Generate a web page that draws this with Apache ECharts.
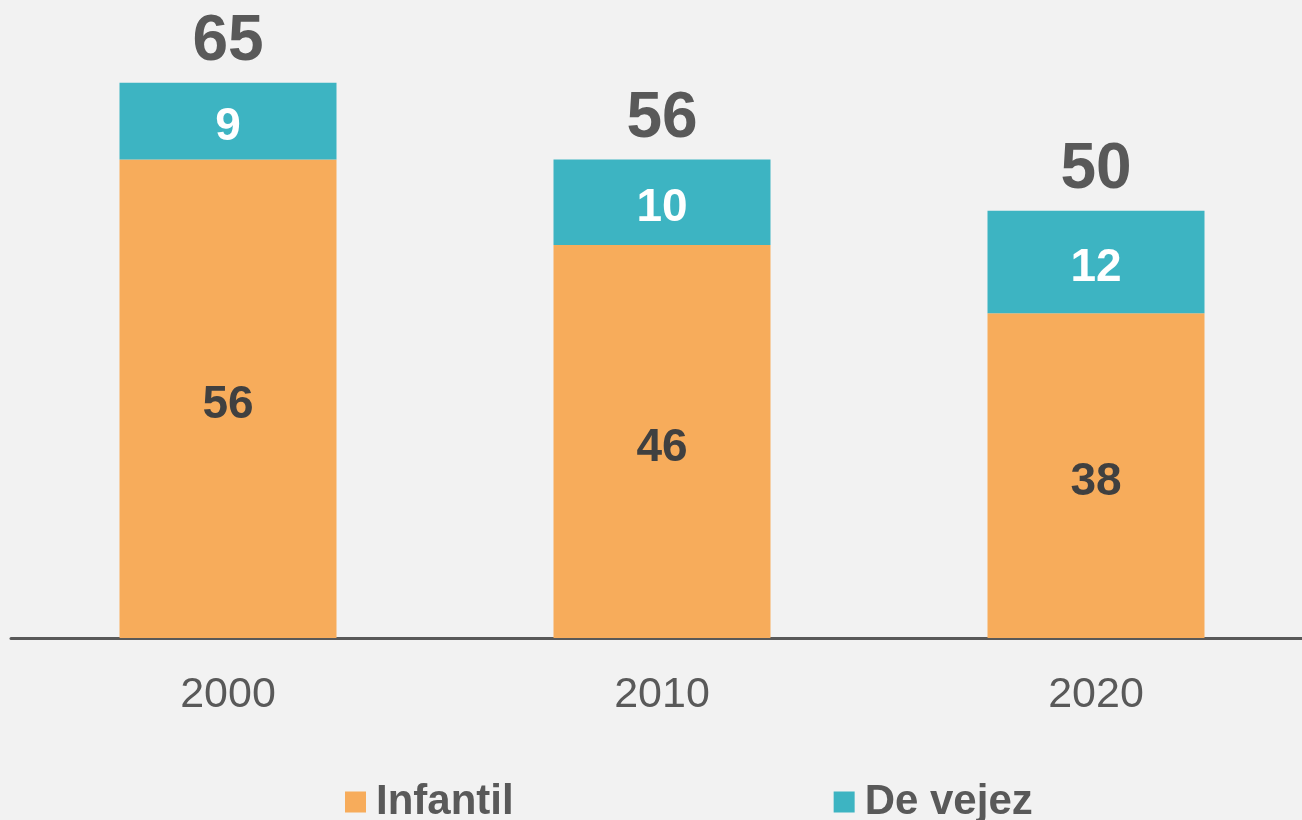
<!DOCTYPE html>
<html>
<head>
<meta charset="utf-8">
<script src="https://cdn.jsdelivr.net/npm/echarts@6/dist/echarts.min.js"></script>
<style>
  * { margin: 0; padding: 0; }
  html, body { width: 1302px; height: 820px; background: #f2f2f2; }
  #chart { width: 1302px; height: 820px; }
</style>
</head>
<body>
<div id="chart"></div>
<script>
// datos
const years = ['2000', '2010', '2020']
const infantil = [56, 46, 38]
const vejez = [9, 10, 12]
const totals = [65, 56, 50]

const chart = echarts.init(document.getElementById('chart'))

chart.setOption({
  backgroundColor: '#f2f2f2',
  animation: false,
  textStyle: { fontFamily: 'Liberation Sans, Arial, sans-serif' },
  grid: {
    left: 11,
    width: 1302,
    top: 40,
    bottom: 182,
    outerBoundsMode: 'none'
  },
  legend: {
    left: 340,
    top: 776,
    itemWidth: 21,
    itemHeight: 21,
    itemGap: 320,
    icon: 'rect',
    selectedMode: false,
    textStyle: {
      fontSize: 42,
      fontWeight: 'bold',
      color: '#595959',
      padding: [0, 0, 0, 5]
    },
    data: ['Infantil', 'De vejez']
  },
  xAxis: {
    type: 'category',
    data: years,
    axisTick: { show: false },
    axisLine: { lineStyle: { color: '#595959', width: 3 } },
    axisLabel: {
      fontSize: 43,
      color: '#595959',
      margin: 36
    }
  },
  yAxis: {
    type: 'value',
    min: 0,
    max: 70,
    show: false,
    splitLine: { show: false }
  },
  series: [
    {
      name: 'Infantil',
      type: 'bar',
      stack: 'tot',
      barWidth: '50%',
      data: infantil,
      itemStyle: { color: '#f7ac5b' },
      label: {
        show: true,
        position: 'inside',
        offset: [0, 7],
        fontSize: 46,
        fontWeight: 'bold',
        color: '#404040'
      }
    },
    {
      name: 'De vejez',
      type: 'bar',
      stack: 'tot',
      barWidth: '50%',
      data: vejez,
      itemStyle: { color: '#3db4c2' },
      label: {
        show: true,
        position: 'inside',
        offset: [0, 6],
        fontSize: 46,
        fontWeight: 'bold',
        color: '#ffffff'
      }
    },
    {
      // solo para las etiquetas del total
      name: 'Total',
      type: 'bar',
      barWidth: '50%',
      barGap: '-100%',
      data: totals,
      z: 0,
      itemStyle: { color: 'rgba(0,0,0,0)' },
      label: {
        show: true,
        position: 'top',
        distance: 8,
        fontSize: 64,
        fontWeight: 'bold',
        color: '#595959'
      }
    }
  ]
})
</script>
</body>
</html>
